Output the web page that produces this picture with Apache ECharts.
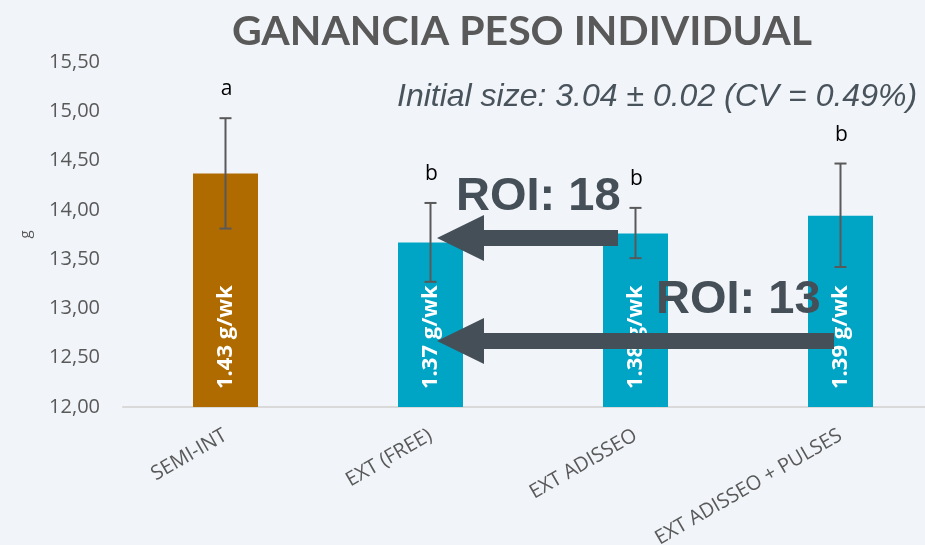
<!DOCTYPE html>
<html>
<head>
<meta charset="utf-8">
<script src="https://cdn.jsdelivr.net/npm/echarts@6/dist/echarts.min.js"></script>
<style>
	html, body { margin: 0; padding: 0; background: #F1F4F9; overflow: hidden; }
	/* el area del grafico sigue un poco mas alla del borde derecho */
	#chart { width: 943px; height: 545px; }
</style>
</head>
<body>
<div id="chart"></div>
<script>
// datos
var categories = [ 'SEMI-INT', 'EXT (FREE)', 'EXT ADISSEO', 'EXT ADISSEO + PULSES' ];
var pesos = [ 14.37, 13.67, 13.76, 13.94 ];
var errLow = [ 13.81, 13.27, 13.51, 13.42 ];
var errHigh = [ 14.93, 14.07, 14.02, 14.47 ];
var letras = [ 'a', 'b', 'b', 'b' ];
var tasas = [ '1.43 g/wk', '1.37 g/wk', '1.38 g/wk', '1.39 g/wk' ];
var colores = [ '#AF6A00', '#00A5C6', '#00A5C6', '#00A5C6' ];

var chart = echarts.init(document.getElementById('chart'));

var flecha = function(xTip, xEnd, yc) {
	return {
		type : 'polygon',
		z : 100,
		shape : {
			points : [ [ xTip, yc ], [ xTip + 47, yc - 23 ], [ xTip + 47, yc - 8 ],
					[ xEnd, yc - 8 ], [ xEnd, yc + 8 ], [ xTip + 47, yc + 8 ],
					[ xTip + 47, yc + 23 ] ]
		},
		style : { fill : '#454F57' }
	};
};

var option = {
	backgroundColor : '#F1F4F9',
	animation : false,
	title : {
		text : 'GANANCIA PESO INDIVIDUAL',
		left : 517,
		textAlign : 'center',
		top : 6,
		textStyle : {
			fontFamily : 'Lato',
			fontWeight : 'bold',
			fontSize : 41,
			color : '#595959'
		}
	},
	grid : { left : 123, right : 0, top : 62, height : 345, outerBoundsMode : 'none' },
	xAxis : {
		type : 'category',
		data : categories,
		axisLine : { lineStyle : { color : '#D9D9D9', width : 2 } },
		axisTick : { show : false },
		axisLabel : {
			rotate : 30,
			margin : 27,
			fontFamily : 'Open Sans',
			fontSize : 20,
			color : '#595959'
		}
	},
	yAxis : {
		type : 'value',
		min : 12,
		max : 15.5,
		interval : 0.5,
		name : 'g',
		nameLocation : 'middle',
		nameGap : 90,
		nameRotate : 90,
		nameTextStyle : { fontFamily : 'Open Sans', fontSize : 15, color : '#595959' },
		splitLine : { show : false },
		axisLine : { show : false },
		axisTick : { show : false },
		axisLabel : {
			margin : 23,
			fontFamily : 'Open Sans',
			fontSize : 20,
			color : '#595959',
			formatter : function(v) {
				return v.toFixed(2).replace('.', ',');
			}
		}
	},
	series : [ {
		type : 'bar',
		barWidth : 65,
		data : pesos.map(function(v, i) {
			return { value : v, itemStyle : { color : colores[i] } };
		}),
		label : {
			show : true,
			position : 'insideBottom',
			rotate : 90,
			align : 'left',
			verticalAlign : 'middle',
			distance : 18,
			fontFamily : 'Open Sans',
			fontWeight : 'bold',
			fontSize : 22,
			color : '#FFFFFF',
			formatter : function(p) {
				return tasas[p.dataIndex];
			}
		}
	}, {
		type : 'custom',
		z : 10,
		data : errLow.map(function(v, i) {
			return [ i, v, errHigh[i] ];
		}),
		renderItem : function(params, api) {
			var lo = api.coord([ api.value(0), api.value(1) ]);
			var hi = api.coord([ api.value(0), api.value(2) ]);
			var st = { stroke : '#595959', lineWidth : 2 };
			return {
				type : 'group',
				children : [ {
					type : 'line',
					shape : { x1 : hi[0], y1 : hi[1], x2 : lo[0], y2 : lo[1] },
					style : st
				}, {
					type : 'line',
					shape : { x1 : hi[0] - 6, y1 : hi[1], x2 : hi[0] + 6, y2 : hi[1] },
					style : st
				}, {
					type : 'line',
					shape : { x1 : lo[0] - 6, y1 : lo[1], x2 : lo[0] + 6, y2 : lo[1] },
					style : st
				}, {
					type : 'text',
					x : hi[0] + 1,
					y : hi[1] - 29,
					style : {
						text : letras[params.dataIndex],
						fontFamily : 'Open Sans',
						fontSize : 21,
						fill : '#000000',
						align : 'center',
						verticalAlign : 'middle'
					}
				} ]
			};
		}
	} ],
	graphic : [ {
		type : 'text',
		x : 397,
		y : 97,
		z : 50,
		style : {
			text : 'Initial size: 3.04 \u00b1 0.02 (CV = 0.49%)',
			fontFamily : 'Liberation Sans',
			fontStyle : 'italic',
			fontSize : 32,
			fill : '#48535B',
			verticalAlign : 'middle'
		}
	}, flecha(437, 618, 238), flecha(437, 834, 341), {
		type : 'text',
		x : 456,
		y : 197,
		z : 101,
		style : {
			text : 'ROI: 18',
			fontFamily : 'Liberation Sans',
			fontWeight : 'bold',
			fontSize : 47,
			fill : '#454F57',
			verticalAlign : 'middle'
		}
	}, {
		type : 'text',
		x : 656,
		y : 300,
		z : 101,
		style : {
			text : 'ROI: 13',
			fontFamily : 'Liberation Sans',
			fontWeight : 'bold',
			fontSize : 47,
			fill : '#454F57',
			verticalAlign : 'middle'
		}
	} ]
};
chart.setOption(option);
</script>
</body>
</html>
